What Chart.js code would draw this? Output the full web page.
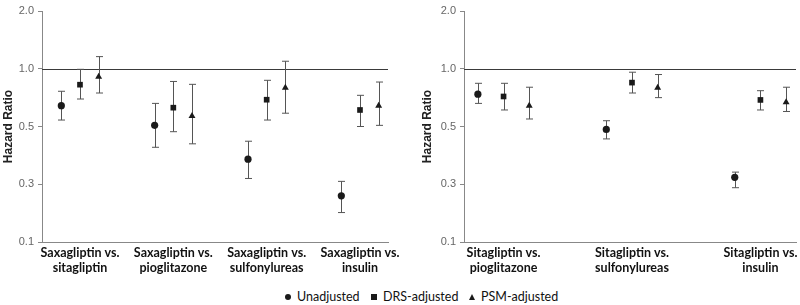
<!DOCTYPE html>
<html>
<head>
<meta charset="utf-8">
<script src="https://cdn.jsdelivr.net/npm/chart.js@4"></script>
<style>
  body { margin:0; background:#fff; width:800px; height:305px; overflow:hidden; position:relative; font-family:Lato,sans-serif; }
  canvas { position:absolute; top:0; }
  #left { left:0; }
  #right { left:400px; }
  .lg { position:absolute; top:289px; font-size:12.5px; color:#111; white-space:nowrap; line-height:16px; }
  .mk { display:inline-block; background:#1a1a1a; margin-right:6px; vertical-align:1px; }
  .circ { width:6px; height:6px; border-radius:50%; }
  .sq { width:6px; height:6px; }
  .tri { width:0; height:0; background:none; border-left:3.5px solid transparent; border-right:3.5px solid transparent; border-bottom:6px solid #1a1a1a; }
</style>
</head>
<body>
<canvas id="left" width="400" height="282"></canvas>
<canvas id="right" width="400" height="282"></canvas>
<div class="lg" style="left:285px"><span class="mk circ"></span>Unadjusted</div>
<div class="lg" style="left:371px"><span class="mk sq"></span>DRS-adjusted</div>
<div class="lg" style="left:469px"><span class="mk tri"></span>PSM-adjusted</div>
<script>
// y axis labels are evenly spaced, not a true log scale
const yTickLabels = ['0.1','0.3','0.5','1.0','2.0'];
const yTickValues = [0.1, 0.3, 0.5, 1.0, 2.0];

// left panel: saxagliptin
const saxaCats = [['Saxagliptin vs.','sitagliptin'],['Saxagliptin vs.','pioglitazone'],['Saxagliptin vs.','sulfonylureas'],['Saxagliptin vs.','insulin']];
const saxaUnadj   = [0.68, 0.51, 0.387, 0.26];
const saxaUnadjLo = [0.556, 0.428, 0.32, 0.202];
const saxaUnadjHi = [0.805, 0.70, 0.449, 0.31];
const saxaDrs     = [0.862, 0.663, 0.732, 0.643];
const saxaDrsLo   = [0.738, 0.482, 0.556, 0.50];
const saxaDrsHi   = [0.995, 0.89, 0.90, 0.77];
const saxaPsm     = [0.93, 0.59, 0.835, 0.68];
const saxaPsmLo   = [0.79, 0.44, 0.615, 0.51];
const saxaPsmHi   = [1.21, 0.865, 1.13, 0.885];

// right panel: sitagliptin
const sitaCats = [['Sitagliptin vs.','pioglitazone'],['Sitagliptin vs.','sulfonylureas'],['Sitagliptin vs.','insulin']];
const sitaUnadj   = [0.78, 0.49, 0.324];
const sitaUnadjLo = [0.70, 0.457, 0.288];
const sitaUnadjHi = [0.874, 0.55, 0.342];
const sitaDrs     = [0.76, 0.88, 0.73];
const sitaDrsLo   = [0.643, 0.79, 0.643];
const sitaDrsHi   = [0.874, 0.97, 0.81];
const sitaPsm     = [0.68, 0.835, 0.71];
const sitaPsmLo   = [0.565, 0.75, 0.63];
const sitaPsmHi   = [0.84, 0.95, 0.84];

const seriesNames = ['Unadjusted','DRS-adjusted','PSM-adjusted'];
const seriesShapes = ['circle','rect','triangle'];
const seriesRadius = [3.6, 4, 4];
const seriesOffset = [-0.2, 0, 0.2];

// hazard ratio -> position on the evenly spaced axis
function pos(hr) {
  for (let i = 0; i < yTickValues.length - 1; i++) {
    if (hr <= yTickValues[i+1] || i === yTickValues.length - 2)
      return i + (hr - yTickValues[i]) / (yTickValues[i+1] - yTickValues[i]);
  }
}

const errBars = {
  id: 'errBars',
  beforeDatasetsDraw(chart) {
    const {ctx, chartArea, scales:{x, y}} = chart;
    // reference line at 1.0
    ctx.save();
    ctx.strokeStyle = '#3a3a3a'; ctx.lineWidth = 1.2;
    const yr = Math.round(y.getPixelForValue(pos(1.0))) + 0.5;
    ctx.beginPath(); ctx.moveTo(chartArea.left, yr); ctx.lineTo(chartArea.right, yr); ctx.stroke();
    ctx.strokeStyle = '#555'; ctx.lineWidth = 1;
    chart.data.datasets.forEach(ds => {
      ds.data.forEach(p => {
        const px = Math.round(x.getPixelForValue(p.x)) + 0.5;
        const t = y.getPixelForValue(p.hi), b = y.getPixelForValue(p.lo);
        ctx.beginPath();
        ctx.moveTo(px, t); ctx.lineTo(px, b);
        ctx.moveTo(px - 3.5, t); ctx.lineTo(px + 3.5, t);
        ctx.moveTo(px - 3.5, b); ctx.lineTo(px + 3.5, b);
        ctx.stroke();
      });
    });
    ctx.restore();
  }
};

function makeChart(id, cats, vals, los, his, xMin, xMax, yWidth, titlePad, padRight) {
  const datasets = vals.map((v, s) => ({
    label: seriesNames[s],
    data: v.map((hr, i) => ({x: i + 1 + seriesOffset[s], y: pos(hr), lo: pos(los[s][i]), hi: pos(his[s][i])})),
    pointStyle: seriesShapes[s],
    pointRadius: seriesRadius[s],
    pointBackgroundColor: '#1a1a1a',
    pointBorderColor: '#1a1a1a',
    pointBorderWidth: 0,
    showLine: false
  }));
  return new Chart(document.getElementById(id), {
    type: 'scatter',
    data: { datasets },
    options: {
      responsive: false,
      animation: false,
      events: [],
      layout: { padding: { top: 11, right: padRight, left: 0, bottom: 0 } },
      plugins: { legend: { display: false }, tooltip: { enabled: false } },
      scales: {
        x: {
          type: 'linear', min: xMin, max: xMax,
          afterBuildTicks: sc => { sc.ticks = cats.map((c, i) => ({ value: i + 1 })); },
          afterFit: sc => { sc.height = 40; sc.paddingLeft = 0; sc.paddingRight = 0; },
          grid: { display: false, drawTicks: false },
          border: { display: true, color: '#888', width: 1 },
          ticks: {
            autoSkip: false, maxRotation: 0, padding: 3,
            color: '#111', font: { family: 'Lato', size: 12.5, weight: 'bold', lineHeight: 1.2 },
            callback: v => cats[Math.round(v) - 1]
          }
        },
        y: {
          type: 'linear', min: 0, max: 4,
          afterBuildTicks: sc => { sc.ticks = yTickLabels.map((l, i) => ({ value: i })); },
          afterFit: sc => { sc.width = yWidth; sc.paddingTop = 0; sc.paddingBottom = 0; },
          grid: { drawOnChartArea: false, drawTicks: true, tickLength: 4, color: '#888' },
          border: { display: true, color: '#888', width: 1 },
          ticks: {
            padding: 4, color: '#666',
            font: { family: '"Liberation Sans"', size: 11 },
            callback: v => yTickLabels[v]
          },
          title: {
            display: true, text: 'Hazard Ratio', color: '#222',
            padding: { top: titlePad, bottom: 0 },
            font: { family: '"Liberation Sans"', size: 12, weight: 'bold' }
          }
        }
      }
    },
    plugins: [errBars]
  });
}

makeChart('left', saxaCats, [saxaUnadj, saxaDrs, saxaPsm], [saxaUnadjLo, saxaDrsLo, saxaPsmLo], [saxaUnadjHi, saxaDrsHi, saxaPsmHi], 0.593, 4.3, 42, 1, 12);
makeChart('right', sitaCats, [sitaUnadj, sitaDrs, sitaPsm], [sitaUnadjLo, sitaDrsLo, sitaPsmLo], [sitaUnadjHi, sitaDrsHi, sitaPsmHi], 0.692, 3.277, 64, 20, 0);
</script>
</body>
</html>
